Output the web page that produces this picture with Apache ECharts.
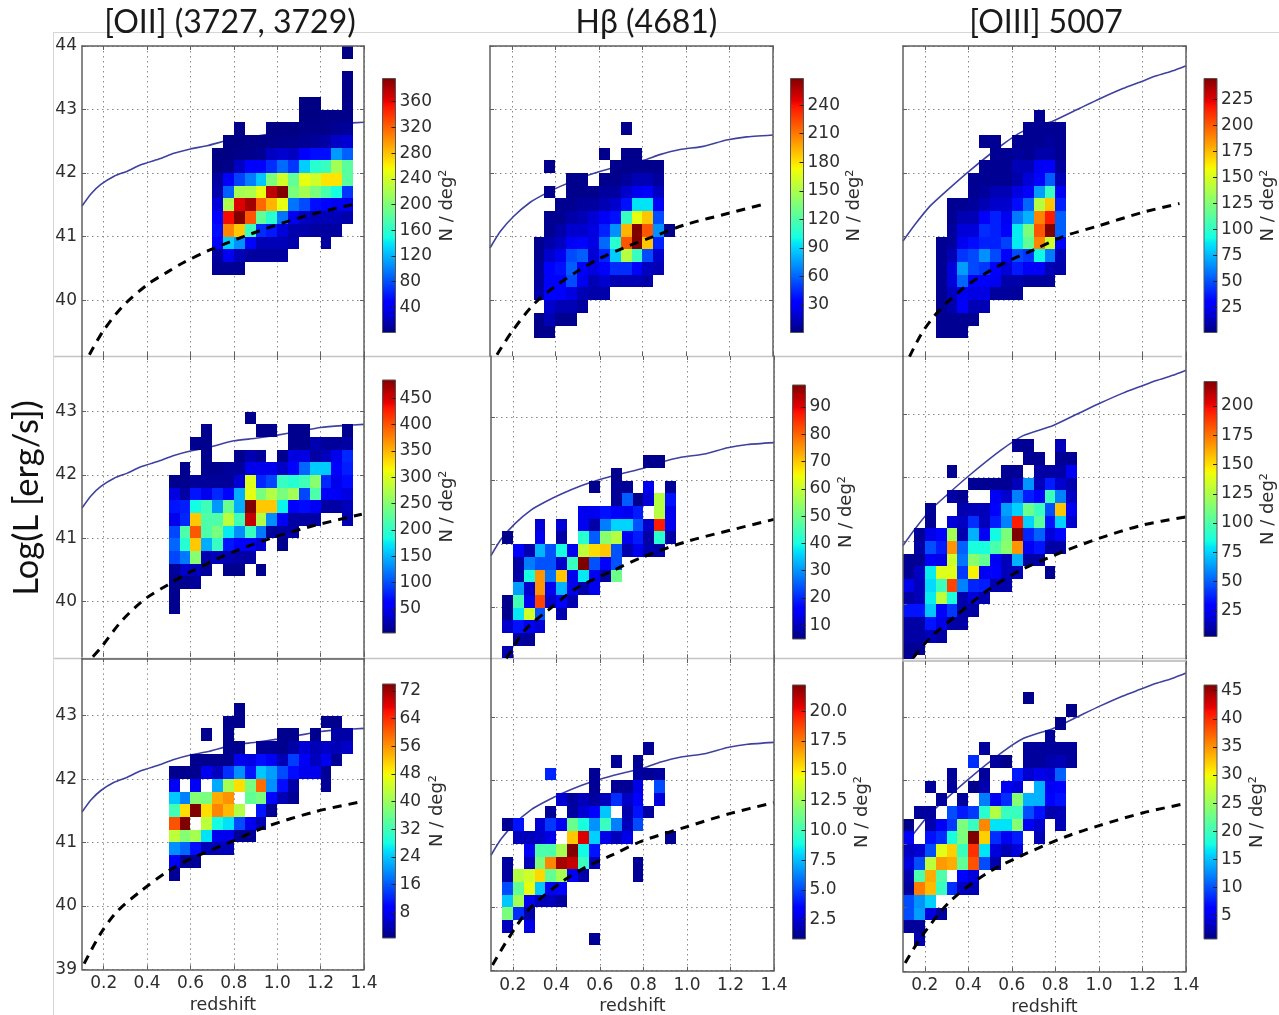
<!DOCTYPE html>
<html>
<head>
<meta charset="utf-8">
<style>html,body{margin:0;padding:0;background:#fff}#c{width:1279px;height:1015px;filter:blur(0.5px)}</style>
<script src="https://cdn.jsdelivr.net/npm/echarts@6/dist/echarts.min.js"></script>
</head>
<body>
<div id="c"></div>
<script>
const n = null;
const BIN_X = 0.05, BIN_Y = 0.2;
const columnTitles = ['[OII] (3727, 3729)', 'H\u03b2 (4681)', '[OIII] 5007'];
const xTickValues = [0.2, 0.4, 0.6, 0.8, 1.0, 1.2, 1.4];

// Each row: [log L bin lower edge, redshift of first bin, N/deg^2 per bin ...]
const oiiTop = [
 [43.8,1.30,3],[43.4,1.30,5],[43.2,1.30,5],
 [43.0,1.10,3,3,n,n,5],
 [42.8,1.10,3,3,4,4,5],
 [42.6,0.80,4,n,n,3,3,3,4,5,5,8,10],
 [42.4,0.75,3,3,4,4,5,6,6,8,10,14,25,30],
 [42.2,0.70,3,3,5,6,8,24,28,24,47,55,55,110,87],
 [42.0,0.70,3,4,24,44,44,67,91,71,130,158,166,218,182],
 [41.8,0.70,12,44,75,99,127,198,238,186,250,238,265,265,182],
 [41.6,0.70,16,87,218,222,250,376,396,198,218,198,174,150,71],
 [41.4,0.70,32,222,364,384,317,285,250,95,79,55,51,40,40],
 [41.2,0.70,51,356,396,325,186,158,95,40,24,20,20,20,16],
 [41.0,0.70,55,305,277,166,67,59,32,16,16,12,12,12],
 [40.8,0.70,44,131,107,51,20,20,20,16,n,n,12],
 [40.6,0.70,12,40,20,12,12,12,12],
 [40.4,0.70,8,8,8]
];
const hbTop = [
 [42.6,0.70,4],
 [42.2,0.60,4,n,4,4],
 [42.0,0.35,4,n,n,n,n,n,4,4,4,4,4],
 [41.8,0.45,4,4,n,4,4,8,13,13,8],
 [41.6,0.35,4,n,4,4,4,8,8,19,27,32,16],
 [41.4,0.40,5,5,8,8,13,19,38,94,94,29],
 [41.2,0.35,5,5,11,13,21,29,38,113,169,188,54],
 [41.0,0.35,5,11,19,19,24,43,72,193,268,220,72,4],
 [40.8,0.30,5,11,16,29,35,24,62,107,220,268,188,43],
 [40.6,0.30,5,19,27,54,59,21,43,88,153,113,54,19],
 [40.4,0.30,8,32,38,59,29,24,32,46,46,32,16,13],
 [40.2,0.30,8,32,32,54,27,13,19,13,13,13,11],
 [40.0,0.30,11,32,32,24,13,11,11],
 [39.8,0.35,19,13,13,8],
 [39.6,0.30,4,13,5,5],
 [39.4,0.30,4,4]
];
const oiiiTop = [
 [42.8,0.70,5],
 [42.6,0.65,5,5,5,5],
 [42.4,0.45,5,5,n,5,5,5,7,5],
 [42.2,0.50,5,5,7,5,10,10,5],
 [42.0,0.45,5,5,5,12,12,25,27,7],
 [41.8,0.40,5,5,5,5,10,20,32,54,12],
 [41.6,0.40,5,7,12,12,22,27,69,103,25],
 [41.4,0.30,5,5,7,12,17,17,34,56,140,172,39],
 [41.2,0.30,5,12,12,27,39,25,61,74,189,216,54],
 [41.0,0.30,7,20,20,42,39,27,88,123,201,245,54],
 [40.8,0.25,5,7,25,34,39,39,47,88,115,189,147,27],
 [40.6,0.25,5,12,44,49,66,49,29,49,44,91,61,12],
 [40.4,0.25,5,20,69,49,44,27,20,37,27,27,12,10],
 [40.2,0.25,5,20,56,29,29,25,10,10,7,7,7],
 [40.0,0.25,5,15,25,22,22,7,7,7],
 [39.8,0.25,5,10,27,12,12],
 [39.6,0.25,5,5,5,5],
 [39.4,0.25,5,5,5]
];
const oiiMid = [
 [42.8,0.85,10],
 [42.6,0.65,10,n,n,n,n,10,10,n,10,10,n,n,n,10],
 [42.4,0.60,10,10,n,n,n,n,n,n,n,10,10,24,15,15,19],
 [42.2,0.65,10,n,n,10,24,15,n,10,44,44,19,29,49,82],
 [42.0,0.55,10,n,10,10,15,15,49,49,49,34,58,112,160,160,58,78],
 [41.8,0.50,10,10,15,15,15,15,39,301,82,97,204,194,209,252,82,49,68],
 [41.6,0.50,44,19,73,49,82,58,146,306,243,276,243,267,97,218,53,53,44],
 [41.4,0.50,73,78,184,209,136,233,146,485,340,340,179,63,68,53,19,19,29],
 [41.2,0.50,49,82,340,218,218,281,209,456,276,131,53,19,19,19,n,n,24],
 [41.0,0.50,97,218,398,218,243,175,131,204,121,15,19,19],
 [40.8,0.50,112,194,340,146,204,73,58,58,39,n,10],
 [40.6,0.50,97,121,252,24,29,24,19,19],
 [40.4,0.50,15,34,29,15,n,10,10,n,10],
 [40.2,0.50,10,10,15],
 [40.0,0.50,10],
 [39.8,0.50,10]
];
const hbMid = [
 [42.2,0.80,6,6],
 [42.0,0.65,6],
 [41.8,0.55,6,n,7,7,n,14,n,7],
 [41.6,0.65,7,25,6,12,58,18],
 [41.4,0.50,14,14,18,16,14,19,n,58,14],
 [41.2,0.30,12,n,12,n,14,8,28,36,36,24,11,87,14],
 [41.0,0.15,6,n,n,14,n,8,n,42,25,53,58,14,19,8,42,8],
 [40.8,0.20,16,9,33,24,40,14,59,68,70,24,9,14,9,8],
 [40.6,0.20,8,28,24,24,11,44,98,24,16,24],
 [40.4,0.20,8,40,75,27,70,14,38,14,8,50],
 [40.2,0.20,31,11,75,14,33,14,9,14],
 [40.0,0.15,6,45,14,83,11,16,9],
 [39.8,0.15,6,38,61,24,n,9],
 [39.6,0.15,11,18,14,12],
 [39.4,0.20,8,7],
 [39.2,0.15,9]
];
const oiiiMid = [
 [42.4,0.60,7,7,n,n,14],
 [42.2,0.65,7,7,n,7,7],
 [42.0,0.30,7,n,n,n,n,7,7,n,10,10,10,25],
 [41.8,0.40,7,7,7,7,14,62,14,36,18,12],
 [41.6,0.30,10,7,n,n,25,18,58,36,27,95,58,16],
 [41.4,0.20,7,n,n,12,14,14,27,64,75,108,95,47,156,25],
 [41.2,0.20,7,n,20,16,40,14,36,58,195,75,103,34,75,18],
 [41.0,0.15,7,23,31,123,12,68,25,84,112,221,38,51,20,31],
 [40.8,0.15,10,47,36,167,51,86,86,99,116,167,25,34,10,10],
 [40.6,0.10,7,7,25,23,134,55,116,105,25,14,68,10,10],
 [40.4,0.10,7,16,81,138,138,42,145,25,29,14,14,n,n,7],
 [40.2,0.10,23,14,77,95,186,58,38,36,12,12],
 [40.0,0.10,10,14,81,129,86,12,20,12],
 [39.8,0.10,34,34,73,27,42,10,10],
 [39.6,0.10,10,10,34,23,10,10],
 [39.4,0.10,10,10,14,10],
 [39.2,0.10,7,7],
 [39.0,0.10,7]
];
const oiiLow = [
 [43.0,0.80,1.5],
 [42.8,0.75,1.5,1.5,n,n,n,n,n,n,n,1.5,1.5],
 [42.6,0.65,1.5,n,1.5,n,n,n,n,1.5,1.5,n,1.5,n,3,3],
 [42.4,0.75,1.5,1.5,n,2,2,1.5,3,6,4,5,4,5],
 [42.2,0.60,1.5,1.5,1.5,1.5,7.5,7,10.5,8,4,14,8,4.5,7.5,2],
 [42.0,0.50,1.5,1.5,1.5,7.5,4.5,13,20,11,24,21,15,10.5,7.5,7.5,2],
 [41.8,0.50,8,n,8,n,22,41,50,37,59,20,10.5,3,n,n,2],
 [41.6,0.50,24,19,38,37,54,56,n,35,37,10,4,2],
 [41.4,0.50,32,50,74,50,57,53,42,n,11,2],
 [41.2,0.50,61,74,n,43,28,26,15,7.5,4],
 [41.0,0.50,43,38,41,26,7.5,7.5,2,2],
 [40.8,0.50,20,17,10.5,4,4,4],
 [40.6,0.50,8,2,2],
 [40.4,0.50,2]
];
const hbLow = [
 [42.4,0.80,1.3],
 [42.2,0.65,1.3,n,1.3],
 [42.0,0.35,4.3,n,n,n,1.3,n,n,n,1.5,1.3,1.5],
 [41.8,0.55,1.3,n,1.3,1.3,2.8,n,5.1],
 [41.6,0.40,2.4,1.5,2,1.5,2,4.5,2.2,3.4,n,2.6],
 [41.4,0.35,1.3,n,1.5,2.4,3.4,7.7,n,1.7,3.9,1.5],
 [41.2,0.15,1.3,3.9,n,2.4,4.7,3,11.1,9,6.6,9.8,6.2,2,5.1],
 [41.0,0.20,2,2,2.2,2.8,n,15.8,20.5,7.9,2.8,2,2.8,n,n,n,1.3],
 [40.8,0.25,3,10.3,10.3,12.6,22.2,8.8,3.9],
 [40.6,0.15,1.5,n,2,11.5,17.3,21.5,20.9,9.8,2,n,n,n,1.3],
 [40.4,0.15,1.5,13,13.7,15.4,10.9,12.6,3,1.7,n,n,n,n,1.3],
 [40.2,0.15,5.1,10.9,14.3,7.7,3,3.4],
 [40.0,0.15,7.7,12.6,3,2,2,1.5],
 [39.8,0.15,11.5,4.5,1.7],
 [39.6,0.15,2,n,2.8],
 [39.4,0.55,1.3]
];
const oiiiLow = [
 [43.2,0.65,1.3],
 [43.0,0.85,1.3],
 [42.8,0.80,1.3],
 [42.6,0.75,2],
 [42.4,0.45,2,n,n,n,2,2,2,2,2],
 [42.2,0.40,8.5,n,2,1.3,n,2,2,2.7,3,2],
 [42.0,0.30,2,n,n,2,n,n,7.6,4,5,4.5,10.8],
 [41.8,0.20,2,n,2,n,1.3,2.7,n,5.4,4.5,n,14.4,5.4,6.3],
 [41.6,0.25,2,n,2,n,12,5.4,8.5,24,14.4,14.4,6.3,7.2],
 [41.4,0.15,2,2,n,9.9,7.6,9,18.9,26.5,19.8,19.8,9.9,7.2,2.7,3],
 [41.2,0.10,1.3,n,2.7,5.4,9,23.4,19.8,35.5,16.6,16.6,24,5.4,4,n,3],
 [41.0,0.10,5.4,n,7.2,8.5,18,23.4,46,32,8.5,5.4,7.6,n,3],
 [40.8,0.10,3.5,4,9.9,29,32,19.8,39.6,16.6,4.5,3,4.5],
 [40.6,0.10,4.5,9.9,27,34.6,33.7,22,38,9.9,2.7],
 [40.4,0.10,2.7,20.7,33.7,21,n,5.8,4.5],
 [40.2,0.10,2,36,33,19.8,8.5,3.5,3],
 [40.0,0.10,9.9,13,15.7],
 [39.8,0.10,9.9,13.5,4.5,2],
 [39.6,0.10,2,2],
 [39.4,0.15,2.7]
];

// Upper (solid) curves per column: [redshift, log L]
const limitOii = [[0.10,41.48],[0.141,41.67],[0.187,41.82],[0.248,41.95],[0.309,42.03],[0.371,42.13],[0.462,42.23],[0.524,42.31],[0.60,42.38],[0.677,42.43],[0.80,42.54],[0.90,42.58],[1.0,42.63],[1.1,42.69],[1.2,42.75],[1.3,42.78],[1.4,42.80]];
const limitHb = [[0.10,40.82],[0.147,41.08],[0.209,41.32],[0.285,41.54],[0.346,41.66],[0.423,41.79],[0.514,41.92],[0.60,42.02],[0.698,42.11],[0.805,42.2],[0.88,42.29],[0.973,42.37],[1.08,42.42],[1.187,42.52],[1.279,42.57],[1.40,42.60]];
const limitOiii = [[0.10,40.93],[0.155,41.19],[0.224,41.48],[0.30,41.72],[0.40,42.02],[0.55,42.43],[0.652,42.66],[0.79,42.82],[0.912,43.02],[1.004,43.17],[1.11,43.33],[1.187,43.43],[1.264,43.53],[1.34,43.61],[1.40,43.69]];
// Lower (dashed) curves per panel
const depthOiiTop = [[0.134,39.14],[0.195,39.5],[0.287,39.9],[0.40,40.24],[0.493,40.44],[0.562,40.58],[0.69,40.79],[0.845,41.0],[1.03,41.22],[1.18,41.37],[1.37,41.52]];
const depthHbTop = [[0.132,39.14],[0.20,39.5],[0.30,39.93],[0.40,40.22],[0.50,40.45],[0.60,40.65],[0.713,40.82],[0.85,41.0],[1.0,41.19],[1.2,41.37],[1.37,41.52]];
const depthOiiiTop = [[0.13,39.11],[0.19,39.5],[0.27,39.85],[0.39,40.22],[0.545,40.55],[0.70,40.79],[0.835,41.0],[0.99,41.16],[1.2,41.38],[1.37,41.52]];
const depthOiiMid = [[0.15,39.13],[0.187,39.27],[0.279,39.68],[0.386,40.03],[0.493,40.26],[0.60,40.47],[0.80,40.79],[0.998,41.03],[1.18,41.21],[1.39,41.38]];
const depthHbMid = [[0.17,39.2],[0.186,39.28],[0.254,39.64],[0.37,39.98],[0.49,40.3],[0.646,40.56],[0.80,40.8],[0.998,41.04],[1.2,41.22],[1.4,41.39]];
const depthOiiiMid = [[0.147,39.16],[0.224,39.47],[0.346,39.83],[0.50,40.25],[0.652,40.56],[0.85,40.85],[1.0,41.04],[1.2,41.25],[1.4,41.38]];
const depthOiiLow = [[0.11,39.09],[0.187,39.57],[0.264,39.92],[0.37,40.23],[0.493,40.54],[0.60,40.74],[0.80,41.03],[0.95,41.25],[1.18,41.49],[1.4,41.65]];
const depthHbLow = [[0.107,39.09],[0.18,39.51],[0.28,39.99],[0.43,40.41],[0.54,40.64],[0.66,40.83],[0.79,41.04],[1.0,41.27],[1.2,41.48],[1.4,41.65]];
const depthOiiiLow = [[0.11,39.13],[0.186,39.55],[0.316,40.1],[0.484,40.54],[0.652,40.83],[0.85,41.12],[1.0,41.29],[1.2,41.49],[1.4,41.64]];

// Colour bar ticks
const ticksOiiTop = [40,80,120,160,200,240,280,320,360];
const ticksHbTop = [30,60,90,120,150,180,210,240];
const ticksOiiiTop = [25,50,75,100,125,150,175,200,225];
const ticksOiiMid = [50,100,150,200,250,300,350,400,450];
const ticksHbMid = [10,20,30,40,50,60,70,80,90];
const ticksOiiiMid = [25,50,75,100,125,150,175,200];
const ticksOiiLow = [8,16,24,32,40,48,56,64,72];
const ticksHbLow = [2.5,5,7.5,10,12.5,15,17.5,20];
const ticksOiiiLow = [5,10,15,20,25,30,35,40,45];

const FRAME='#5f5f5f', LIGHT='#b5b5b5';
const panels = [
 {rows:oiiTop, limit:limitOii, depth:depthOiiTop, ticks:ticksOiiTop, vmin:1, vmax:396, yTicks:[40,41,42,43,44], yr:[39.12,44], g:[82,46,282,310], cb:[382.5,78.5,13,254], ng:43, yl:1, topLine:FRAME},
 {rows:hbTop, limit:limitHb, depth:depthHbTop, ticks:ticksHbTop, vmin:1, vmax:268, yTicks:[40,41,42,43,44], yr:[39.12,44], g:[490,46,283,310], cb:[790.5,78.5,13,254], ng:42, topLine:FRAME},
 {rows:oiiiTop, limit:limitOiii, depth:depthOiiiTop, ticks:ticksOiiiTop, vmin:1, vmax:245, yTicks:[40,41,42,43,44], yr:[39.12,44], g:[903,46,283,310], cb:[1204,78.5,13,254], ng:42, topLine:FRAME},
 {rows:oiiMid, limit:limitOii, depth:depthOiiMid, ticks:ticksOiiMid, vmin:4, vmax:485, yTicks:[40,41,42,43], yr:[39.13,43.88], g:[82,356,282,300.7], cb:[382.5,380,13,253], ng:43, yl:1},
 {rows:hbMid, limit:limitHb, depth:depthHbMid, ticks:ticksHbMid, vmin:5, vmax:98, yTicks:[40,41,42,43], yr:[39.2,43.966], g:[491,356,283,302.3], cb:[792.5,385,13,254], ng:32},
 {rows:oiiiMid, limit:limitOiii, depth:depthOiiiMid, ticks:ticksOiiiMid, vmin:3, vmax:221, yTicks:[40,41,42,43], yr:[39.14,43.915], g:[903,356,283,303], cb:[1204,381.5,13,255], ng:42},
 {rows:oiiLow, limit:limitOii, depth:depthOiiLow, ticks:ticksOiiLow, vmin:0.5, vmax:74, yTicks:[39,40,41,42,43], yr:[39,43.905], g:[82,658.3,282,311], cb:[382.5,684,13,254], ng:33, yl:1, xl:1, topLine:FRAME},
 {rows:hbLow, limit:limitHb, depth:depthHbLow, ticks:ticksHbLow, vmin:0.88, vmax:22.2, yTicks:[39,40,41,42,43], yr:[39,43.915], g:[491,659,283,311.7], cb:[792.5,685,13,254], ng:48, xl:1, dec:1},
 {rows:oiiiLow, limit:limitOiii, depth:depthOiiiLow, ticks:ticksOiiiLow, vmin:0.86, vmax:46, yTicks:[39,40,41,42,43], yr:[39,43.88], g:[903,661,283,310.3], cb:[1204,685,13,254], ng:31, xl:1, topLine:LIGHT}
];

const jetR = [[0,0],[.35,0],[.66,1],[.89,1],[1,.5]];
const jetG = [[0,0],[.125,0],[.375,1],[.64,1],[.91,0],[1,0]];
const jetB = [[0,.5],[.11,1],[.34,1],[.65,0],[1,0]];
function lerp(tbl, t){
  for(let i=1;i<tbl.length;i++){
    if(t<=tbl[i][0]){
      const a=tbl[i-1],b=tbl[i];
      return a[1]+(b[1]-a[1])*(t-a[0])/(b[0]-a[0]);
    }
  }
  return tbl[tbl.length-1][1];
}
function jet(t){
  t=Math.max(0,Math.min(1,t));
  return 'rgb('+[jetR,jetG,jetB].map(c=>Math.round(255*lerp(c,t))).join(',')+')';
}
const jetStops = [0,.06,.11,.125,.25,.34,.35,.375,.5,.64,.65,.66,.75,.89,.91,1].map(s=>({offset:s,color:jet(s)}));

function cells(rows){
  const out=[];
  rows.forEach(r=>{
    for(let i=2;i<r.length;i++){
      if(r[i]!==null) out.push([+(r[1]+(i-2)*BIN_X).toFixed(2), r[0], r[i]]);
    }
  });
  return out;
}

const FONT='"DejaVu Sans"', TXT='#2e2e2e';
const grids=[],xAxes=[],yAxes=[],series=[];
panels.forEach(p=>{
  const gi=grids.length;
  grids.push({left:p.g[0],top:p.g[1],width:p.g[2],height:p.g[3],outerBoundsMode:'none'});
  const base={type:'value',gridIndex:gi,min:0.1,max:1.4,axisLine:{onZero:false}};
  const tickX={customValues:xTickValues,inside:true,length:4,lineStyle:{color:FRAME,width:1}};
  const ix=xAxes.length;
  xAxes.push(Object.assign({},base,{position:'bottom',z:5,splitLine:{show:false},
    axisLine:{show:!!p.xl,onZero:false,lineStyle:{color:FRAME,width:1.5}},axisTick:tickX,
    axisLabel:{show:!!p.xl,customValues:xTickValues,formatter:v=>(+v).toFixed(1),margin:6,fontFamily:FONT,fontSize:17,color:TXT},
    name:p.xl?'redshift':'',nameLocation:'middle',nameGap:27,nameTextStyle:{fontFamily:FONT,fontSize:17.5,color:TXT}}));
  xAxes.push(Object.assign({},base,{position:'top',z:5,splitLine:{show:false},
    axisLine:{show:!!p.topLine,onZero:false,lineStyle:{color:p.topLine||FRAME,width:1.5}},axisTick:tickX,axisLabel:{show:false}}));
  xAxes.push(Object.assign({},base,{position:'bottom',z:0,axisLine:{show:false},axisTick:{show:false,customValues:xTickValues},
    axisLabel:{show:false,customValues:xTickValues},splitLine:{show:true,lineStyle:{color:'#8a8a8a',width:1,type:[1.5,3.5]}}}));
  const ybase={type:'value',gridIndex:gi,min:p.yr[0],max:p.yr[1]};
  const tickY={customValues:p.yTicks,inside:true,length:4,lineStyle:{color:FRAME,width:1}};
  const iy=yAxes.length;
  yAxes.push(Object.assign({},ybase,{position:'left',z:5,splitLine:{show:false},
    axisLine:{show:true,onZero:false,lineStyle:{color:FRAME,width:1.5}},axisTick:tickY,
    axisLabel:{show:!!p.yl,customValues:p.yTicks,margin:5,fontFamily:FONT,fontSize:17,color:TXT}}));
  yAxes.push(Object.assign({},ybase,{position:'right',z:5,splitLine:{show:false},
    axisLine:{show:true,onZero:false,lineStyle:{color:FRAME,width:1.5}},axisTick:tickY,axisLabel:{show:false}}));
  yAxes.push(Object.assign({},ybase,{position:'left',z:0,axisLine:{show:false},axisTick:{show:false,customValues:p.yTicks},
    axisLabel:{show:false,customValues:p.yTicks},splitLine:{show:true,lineStyle:{color:'#8a8a8a',width:1,type:[1.5,3.5]}}}));

  series.push({type:'line',xAxisIndex:ix,yAxisIndex:iy,data:p.limit,showSymbol:false,symbol:'none',smooth:0.2,z:1,silent:true,
    lineStyle:{color:'#3f41a0',width:1.6}});
  const vmin=p.vmin,vmax=p.vmax;
  series.push({type:'custom',xAxisIndex:ix,yAxisIndex:iy,data:cells(p.rows),z:2,clip:true,silent:true,
    encode:{x:0,y:1},
    renderItem:function(params,api){
      const a=api.coord([api.value(0),api.value(1)+BIN_Y]);
      const b=api.coord([api.value(0)+BIN_X,api.value(1)]);
      const col=jet((api.value(2)-vmin)/(vmax-vmin));
      const rect=echarts.graphic.clipRectByRect({x:a[0],y:a[1],width:b[0]-a[0],height:b[1]-a[1]},
        {x:params.coordSys.x,y:params.coordSys.y,width:params.coordSys.width,height:params.coordSys.height});
      if(!rect) return null;
      const x0=Math.round(rect.x),y0=Math.round(rect.y),x1=Math.round(rect.x+rect.width),y1=Math.round(rect.y+rect.height);
      return {type:'rect',shape:{x:x0,y:y0,width:x1-x0,height:y1-y0},style:{fill:col}};
    }});
  series.push({type:'line',xAxisIndex:ix,yAxisIndex:iy,data:p.depth,showSymbol:false,symbol:'none',smooth:0.3,z:3,silent:true,
    lineStyle:{color:'#000',width:3,type:[9,7]}});

  // colour bar
  const gc=grids.length;
  grids.push({left:p.cb[0],top:p.cb[1],width:p.cb[2],height:p.cb[3],outerBoundsMode:'none'});
  const xc=xAxes.length;
  xAxes.push({type:'value',gridIndex:gc,min:0,max:1,show:false});
  const yc=yAxes.length;
  const dec=p.dec;
  yAxes.push({type:'value',gridIndex:gc,min:p.vmin,max:p.vmax,position:'right',z:5,splitLine:{show:false},
    axisLine:{show:false,onZero:false},
    axisTick:{customValues:p.ticks,inside:true,length:4,lineStyle:{color:'#222',width:1}},
    axisLabel:{customValues:p.ticks,margin:4,fontFamily:FONT,fontSize:17,color:TXT,formatter:v=>dec?(+v).toFixed(1):String(+v)},
    name:'N / deg\u00b2',nameLocation:'middle',nameRotate:90,nameGap:p.ng,nameTextStyle:{fontFamily:FONT,fontSize:18,color:TXT}});
  series.push({type:'custom',xAxisIndex:xc,yAxisIndex:yc,data:[[0,p.vmin,1,p.vmax]],z:2,silent:true,
    encode:{x:[0,2],y:[1,3]},
    renderItem:function(params,api){
      const a=api.coord([api.value(0),api.value(3)]);
      const b=api.coord([api.value(2),api.value(1)]);
      return {type:'rect',shape:{x:a[0],y:a[1],width:b[0]-a[0],height:b[1]-a[1]},
        style:{stroke:'#555',lineWidth:1,
          fill:{type:'linear',x:0,y:1,x2:0,y2:0,colorStops:jetStops}}};
    }});
});

const sep='#c4c4c4';
const titleStyle={fontFamily:'Lato',fontWeight:'normal',fontSize:32,color:'#1a1a1a'};
const option={
  animation:false,
  backgroundColor:'#fff',
  title:[
    {text:columnTitles[0],left:225,top:2,textAlign:'center',textStyle:titleStyle},
    {text:columnTitles[1],left:641.5,top:2,textAlign:'center',textStyle:titleStyle},
    {text:columnTitles[2],left:1041,top:2,textAlign:'center',textStyle:titleStyle}
  ],
  graphic:[
    {type:'line',z:-1,silent:true,shape:{x1:54,y1:32.5,x2:1279,y2:32.5},style:{stroke:'#d6d6d6',lineWidth:1}},
    {type:'line',z:-1,silent:true,shape:{x1:53.5,y1:32,x2:53.5,y2:1015},style:{stroke:'#d6d6d6',lineWidth:1}},
    {type:'line',z:-1,silent:true,shape:{x1:54,y1:356.5,x2:1182,y2:356.5},style:{stroke:sep,lineWidth:1.5}},
    {type:'line',z:-1,silent:true,shape:{x1:54,y1:658.5,x2:1186,y2:658.5},style:{stroke:sep,lineWidth:1.5}},
    {type:'text',x:27,y:498,rotation:Math.PI/2,silent:true,
      style:{text:'Log(L [erg/s])',fontFamily:'Lato',fontSize:34.5,fill:'#111',align:'center',verticalAlign:'middle'}}
  ],
  grid:grids,xAxis:xAxes,yAxis:yAxes,series:series
};
const chart=echarts.init(document.getElementById('c'),null,{renderer:'canvas'});
chart.setOption(option);
</script>
</body>
</html>
